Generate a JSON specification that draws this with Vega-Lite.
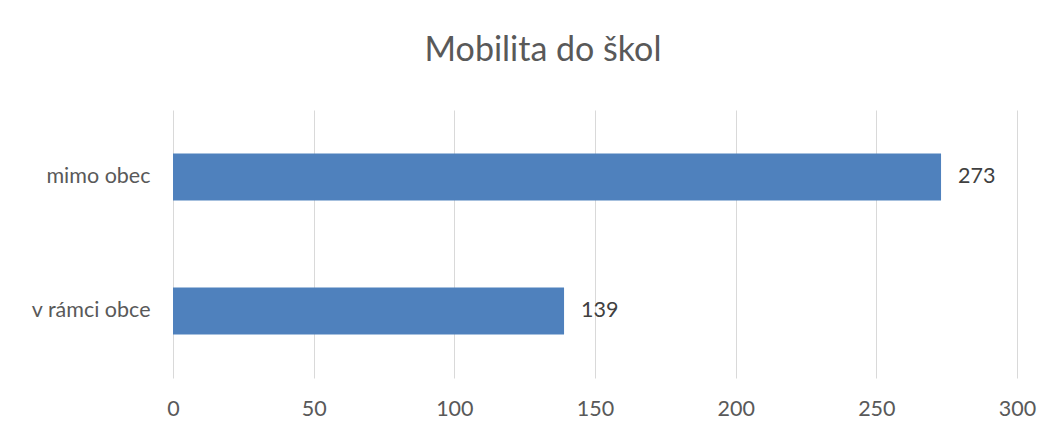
{
  "$schema": "https://vega.github.io/schema/vega-lite/v6.json",
  "autosize": "none",
  "width": 844,
  "height": 268,
  "padding": {"left": 173, "top": 110, "right": 35, "bottom": 54},
  "background": "white",
  "config": {
    "font": "Lato",
    "view": {"stroke": null}
  },
  "title": {
    "text": "Mobilita do škol",
    "fontSize": 34,
    "fontWeight": "normal",
    "color": "#595959",
    "dx": -52,
    "offset": 8,
    "baseline": "bottom"
  },
  "data": {
    "values": [
      {"kategorie": "mimo obec", "pocet": 273},
      {"kategorie": "v rámci obce", "pocet": 139}
    ]
  },
  "encoding": {
    "y": {
      "field": "kategorie",
      "type": "nominal",
      "sort": ["mimo obec", "v rámci obce"],
      "scale": {"paddingInner": 0.65, "paddingOuter": 0.325},
      "axis": {
        "title": null,
        "domain": false,
        "ticks": false,
        "labelFontSize": 21.5,
        "labelColor": "#595959",
        "labelPadding": 23
      }
    },
    "x": {
      "field": "pocet",
      "type": "quantitative",
      "scale": {"domain": [0, 300], "nice": false},
      "axis": {
        "title": null,
        "values": [0, 50, 100, 150, 200, 250, 300],
        "domain": false,
        "ticks": false,
        "grid": true,
        "gridColor": "#d9d9d9",
        "gridWidth": 1,
        "labelFlush": false,
        "labelOverlap": false,
        "labelFontSize": 21.5,
        "labelColor": "#595959",
        "labelPadding": 20
      }
    }
  },
  "layer": [
    {"mark": {"type": "bar", "color": "#4f81bd"}},
    {
      "mark": {"type": "text", "align": "left", "dx": 17, "fontSize": 21.5, "color": "#404040"},
      "encoding": {"text": {"field": "pocet", "type": "quantitative"}}
    }
  ]
}
